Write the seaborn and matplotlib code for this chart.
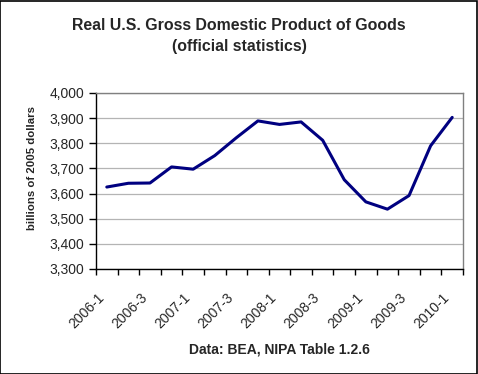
import matplotlib
matplotlib.use("Agg")
import matplotlib.pyplot as plt
import matplotlib.transforms as mtransforms
import seaborn as sns
import pandas as pd
import numpy as np
from matplotlib.ticker import FuncFormatter, FixedLocator

quarters = ["2006-1", "2006-2", "2006-3", "2006-4",
            "2007-1", "2007-2", "2007-3", "2007-4",
            "2008-1", "2008-2", "2008-3", "2008-4",
            "2009-1", "2009-2", "2009-3", "2009-4",
            "2010-1"]
gdp_goods = [3626, 3641, 3642, 3706, 3697, 3751, 3822, 3889,
             3875, 3885, 3812, 3655, 3567, 3538, 3592, 3790, 3903]
n = len(gdp_goods)
labels = ["2006-1", "2006-3", "2007-1", "2007-3", "2008-1",
          "2008-3", "2009-1", "2009-3", "2010-1"]

df = pd.DataFrame({"pos": np.arange(n), "gdp": gdp_goods})

sns.set_style("white")
plt.rcParams["font.family"] = ["Liberation Sans", "DejaVu Sans"]

fig = plt.figure(figsize=(4.78, 3.74), dpi=100)
fig.patch.set_facecolor("white")
fig.add_artist(plt.Rectangle((0.001, 0.001), 0.997, 0.996, transform=fig.transFigure,
                             fill=False, edgecolor="black", linewidth=1.2))

ax = fig.add_axes([96/478, 1-269/374, (463-96)/478, (269-93)/374])
sns.lineplot(data=df, x="pos", y="gdp", ax=ax, color="#000080", linewidth=2.2)

ax.set_xlim(-0.5, n - 0.5)
ax.set_ylim(3300, 4000)
ax.set_yticks(np.arange(3300, 4001, 100))
ax.yaxis.set_major_formatter(FuncFormatter(lambda v, p: f"{int(v):,}"))
ax.grid(axis="y", color="#b4b4b4", linewidth=0.9)
ax.grid(axis="x", visible=False)

ax.xaxis.set_major_locator(FixedLocator(np.arange(0, n, 2)))
ax.set_xticklabels(labels, rotation=45, ha="right", va="center", rotation_mode="anchor")
ax.xaxis.set_minor_locator(FixedLocator(np.arange(-0.5, n, 1)))
ax.tick_params(axis="x", which="major", length=0, labelsize=10, pad=19)
ax.tick_params(axis="x", which="minor", length=4.5, width=1, color="black", direction="out")
ax.tick_params(axis="y", which="major", length=5, width=1, color="black",
               direction="out", labelsize=10, pad=3.5)
ax.tick_params(axis="both", bottom=True, left=True)
ax.xaxis.set_tick_params(which="minor", bottom=True)
offset = mtransforms.ScaledTranslation(-5/100, 0, fig.dpi_scale_trans)
for lab in ax.get_xticklabels():
    lab.set_transform(lab.get_transform() + offset)

for s in ["top", "right"]:
    ax.spines[s].set_color("#808080")
    ax.spines[s].set_linewidth(1)
for s in ["left", "bottom"]:
    ax.spines[s].set_color("black")
    ax.spines[s].set_linewidth(1)

ax.set_xlabel("")
ax.set_ylabel("")
fig.text(32/478, 1 - 168/374, "billions of 2005 dollars", rotation=90,
         ha="center", va="center", fontsize=8.2, fontweight="bold")
fig.text(279/478, 1 - 349/374, "Data: BEA, NIPA Table 1.2.6",
         ha="center", va="center", fontsize=10, fontweight="bold")

fig.text(0.5, 1 - 26/374, "Real U.S. Gross Domestic Product of Goods",
         ha="center", va="center", fontsize=11.4, fontweight="bold")
fig.text(0.5, 1 - 47/374, "(official statistics)",
         ha="center", va="center", fontsize=11.4, fontweight="bold")

fig.savefig("out.png", dpi=100, facecolor="white")
